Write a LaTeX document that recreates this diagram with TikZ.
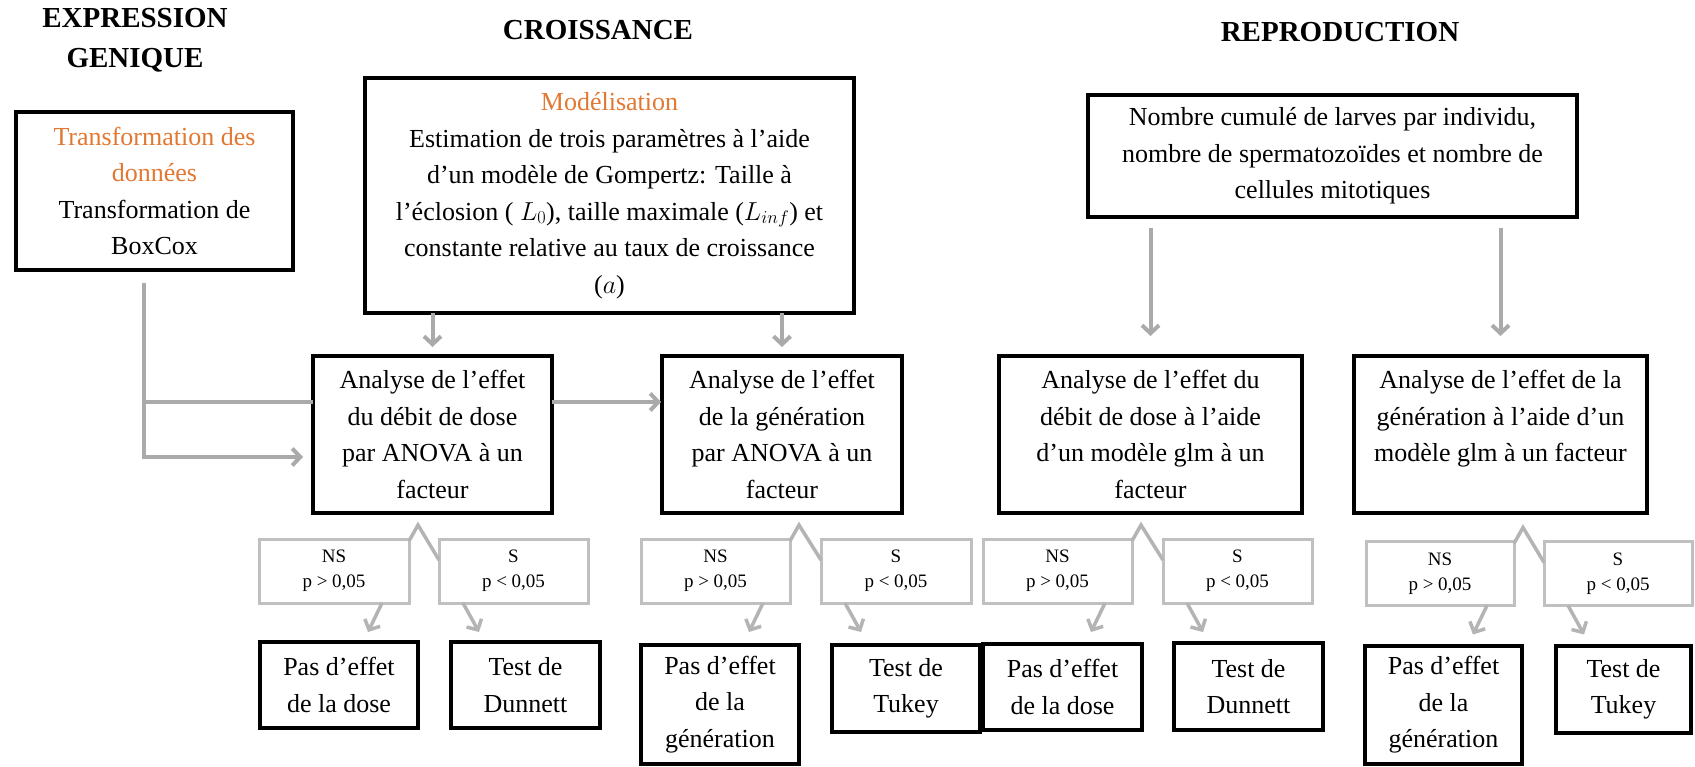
\documentclass[tikz,border=0pt]{standalone}
\usepackage{fix-cm}
\usepackage{fontspec}
\setmainfont{Liberation Serif}
\usetikzlibrary{arrows.meta}
\definecolor{orng}{RGB}{226,120,50}
\definecolor{cgray}{RGB}{170,170,170}
\definecolor{bgray}{RGB}{192,192,192}
\definecolor{agray}{RGB}{180,180,180}
\newcommand{\bodyfnt}{\fontsize{26}{36.5}\selectfont}
\newcommand{\smallfnt}{\fontsize{19}{25}\selectfont}
\newcommand{\titlefnt}{\fontsize{29}{40}\selectfont\bfseries}
\begin{document}
\begin{tikzpicture}[x=1pt,y=-1pt,
  bbox/.style={draw=black, line width=3.5pt, fill=white, inner sep=0pt, outer sep=0pt, align=center, font=\bodyfnt},
  gbox/.style={draw=bgray, line width=3pt, fill=white, inner sep=0pt, outer sep=0pt, align=center, font=\smallfnt, minimum height=64pt},
  conn/.style={draw=cgray, line width=4pt},
  arr/.style={conn, -{Straight Barb[length=8pt,width=17pt]}},
  conn2/.style={draw=agray, line width=3.5pt, line join=miter},
  arr2/.style={conn2, -{Straight Barb[length=8pt,width=17pt]}},
  ttl/.style={align=center, font=\titlefnt}]
\fill[white] (0,0) rectangle (1695,767);
\useasboundingbox (0,0) rectangle (1695,767);

% titles
\node[ttl] (tExpr) at (135,40) {EXPRESSION\\GENIQUE};
\node[ttl] (tCroi) at (598,30) {CROISSANCE};
\node[ttl] (tRepr) at (1340,32) {REPRODUCTION};

% top boxes
\node[bbox, minimum width=277pt, minimum height=158pt] (box1) at (154.5,191)
  {\textcolor{orng}{Transformation des}\\\textcolor{orng}{données}\\Transformation de\\BoxCox};
\node[bbox, minimum width=489pt, minimum height=235pt] (modl) at (609.5,195.5)
  {\textcolor{orng}{Modélisation}\\Estimation de trois paramètres à l’aide\\d’un modèle de Gompertz: Taille à\\l’éclosion ( $L_0$), taille maximale ($L_{inf}$) et\\constante relative au taux de croissance\\($a$)};
\node[bbox, minimum width=489pt, minimum height=122pt] (repro) at (1332.5,156)
  {Nombre cumulé de larves par individu,\\nombre de spermatozoïdes et nombre de\\cellules mitotiques};

% analysis boxes
\node[bbox, minimum width=239pt, minimum height=157pt] (an1) at (432.5,434.5)
  {Analyse de l’effet\\du débit de dose\\par ANOVA à un\\facteur};
\node[bbox, minimum width=240pt, minimum height=157pt] (an2) at (782,434.5)
  {Analyse de l’effet\\de la génération\\par ANOVA à un\\facteur};
\node[bbox, minimum width=303pt, minimum height=157pt] (glm1) at (1150.5,434.5)
  {Analyse de l’effet du\\débit de dose à l’aide\\d’un modèle glm à un\\facteur};
\node[bbox, minimum width=293pt, minimum height=157pt] (glm2) at (1500.5,434.5)
  {Analyse de l’effet de la\\génération à l’aide d’un\\modèle glm à un facteur\\\mbox{}};

% significance boxes
\node[gbox, minimum width=150pt] (ns1) at (334,571) {NS\\p > 0,05};
\node[gbox, minimum width=149pt] (s1) at (513.5,571) {S\\p < 0,05};
\node[gbox, minimum width=149pt] (ns2) at (715.5,571) {NS\\p > 0,05};
\node[gbox, minimum width=150pt] (s2) at (896,571) {S\\p < 0,05};
\node[gbox, minimum width=149pt] (ns3) at (1057.5,571) {NS\\p > 0,05};
\node[gbox, minimum width=149pt] (s3) at (1237.5,571) {S\\p < 0,05};
\node[gbox, minimum width=148pt] (ns4) at (1440,573.5) {NS\\p > 0,05};
\node[gbox, minimum width=148pt] (s4) at (1618,573.5) {S\\p < 0,05};

% result boxes
\node[bbox, minimum width=158pt, minimum height=86pt] (pe1) at (339,685) {Pas d’effet\\de la dose};
\node[bbox, minimum width=149pt, minimum height=86pt] (du1) at (525.5,685) {Test de\\Dunnett};
\node[bbox, minimum width=158pt, minimum height=119pt] (pg2) at (720,704.5) {Pas d’effet\\de la\\génération};
\node[bbox, minimum width=148pt, minimum height=87pt] (tu2) at (906,688.5) {Test de\\Tukey};
\node[bbox, minimum width=159pt, minimum height=86pt] (pe3) at (1062.5,687) {Pas d’effet\\de la dose};
\node[bbox, minimum width=149pt, minimum height=87pt] (du3) at (1248.5,686.5) {Test de\\Dunnett};
\node[bbox, minimum width=157pt, minimum height=118pt] (pg4) at (1443.5,705) {Pas d’effet\\de la\\génération};
\node[bbox, minimum width=135pt, minimum height=87pt] (tu4) at (1623.5,689.5) {Test de\\Tukey};

% left connector
\coordinate (v0) at (144,283);
\coordinate (v1) at (144,402);
\coordinate (v2) at (144,457);
\draw[conn] (v1) -- (an1.west |- v1);
\draw[arr, shorten >=10pt] (v0) -- (v2) -- (an1.west |- v2);
\draw[arr, shorten >=1pt] (an1.east |- v1) -- (an2.west |- v1);

% modelisation arrows
\draw[arr, shorten >=9pt] (an1.north |- modl.south) -- (an1.north);
\draw[arr, shorten >=9pt] (an2.north |- modl.south) -- (an2.north);
% reproduction arrows
\draw[arr, shorten <=11pt, shorten >=20pt] (glm1.north |- repro.south) -- (glm1.north);
\draw[arr, shorten <=11pt, shorten >=20pt] (glm2.north |- repro.south) -- (glm2.north);

% chevrons
\foreach \n/\s in {ns1/s1, ns2/s2, ns3/s3, ns4/s4}{
  \draw[conn2] ([yshift=-2pt]\n.north east) -- ++(9,-16) -- ([yshift=-21pt]\s.north west);
  \draw[arr2] ([xshift=-27pt]\n.south east) -- ++(-14,29);
  \draw[arr2] ([xshift=24pt]\s.south west) -- ++(16,29);
}
\end{tikzpicture}
\end{document}
